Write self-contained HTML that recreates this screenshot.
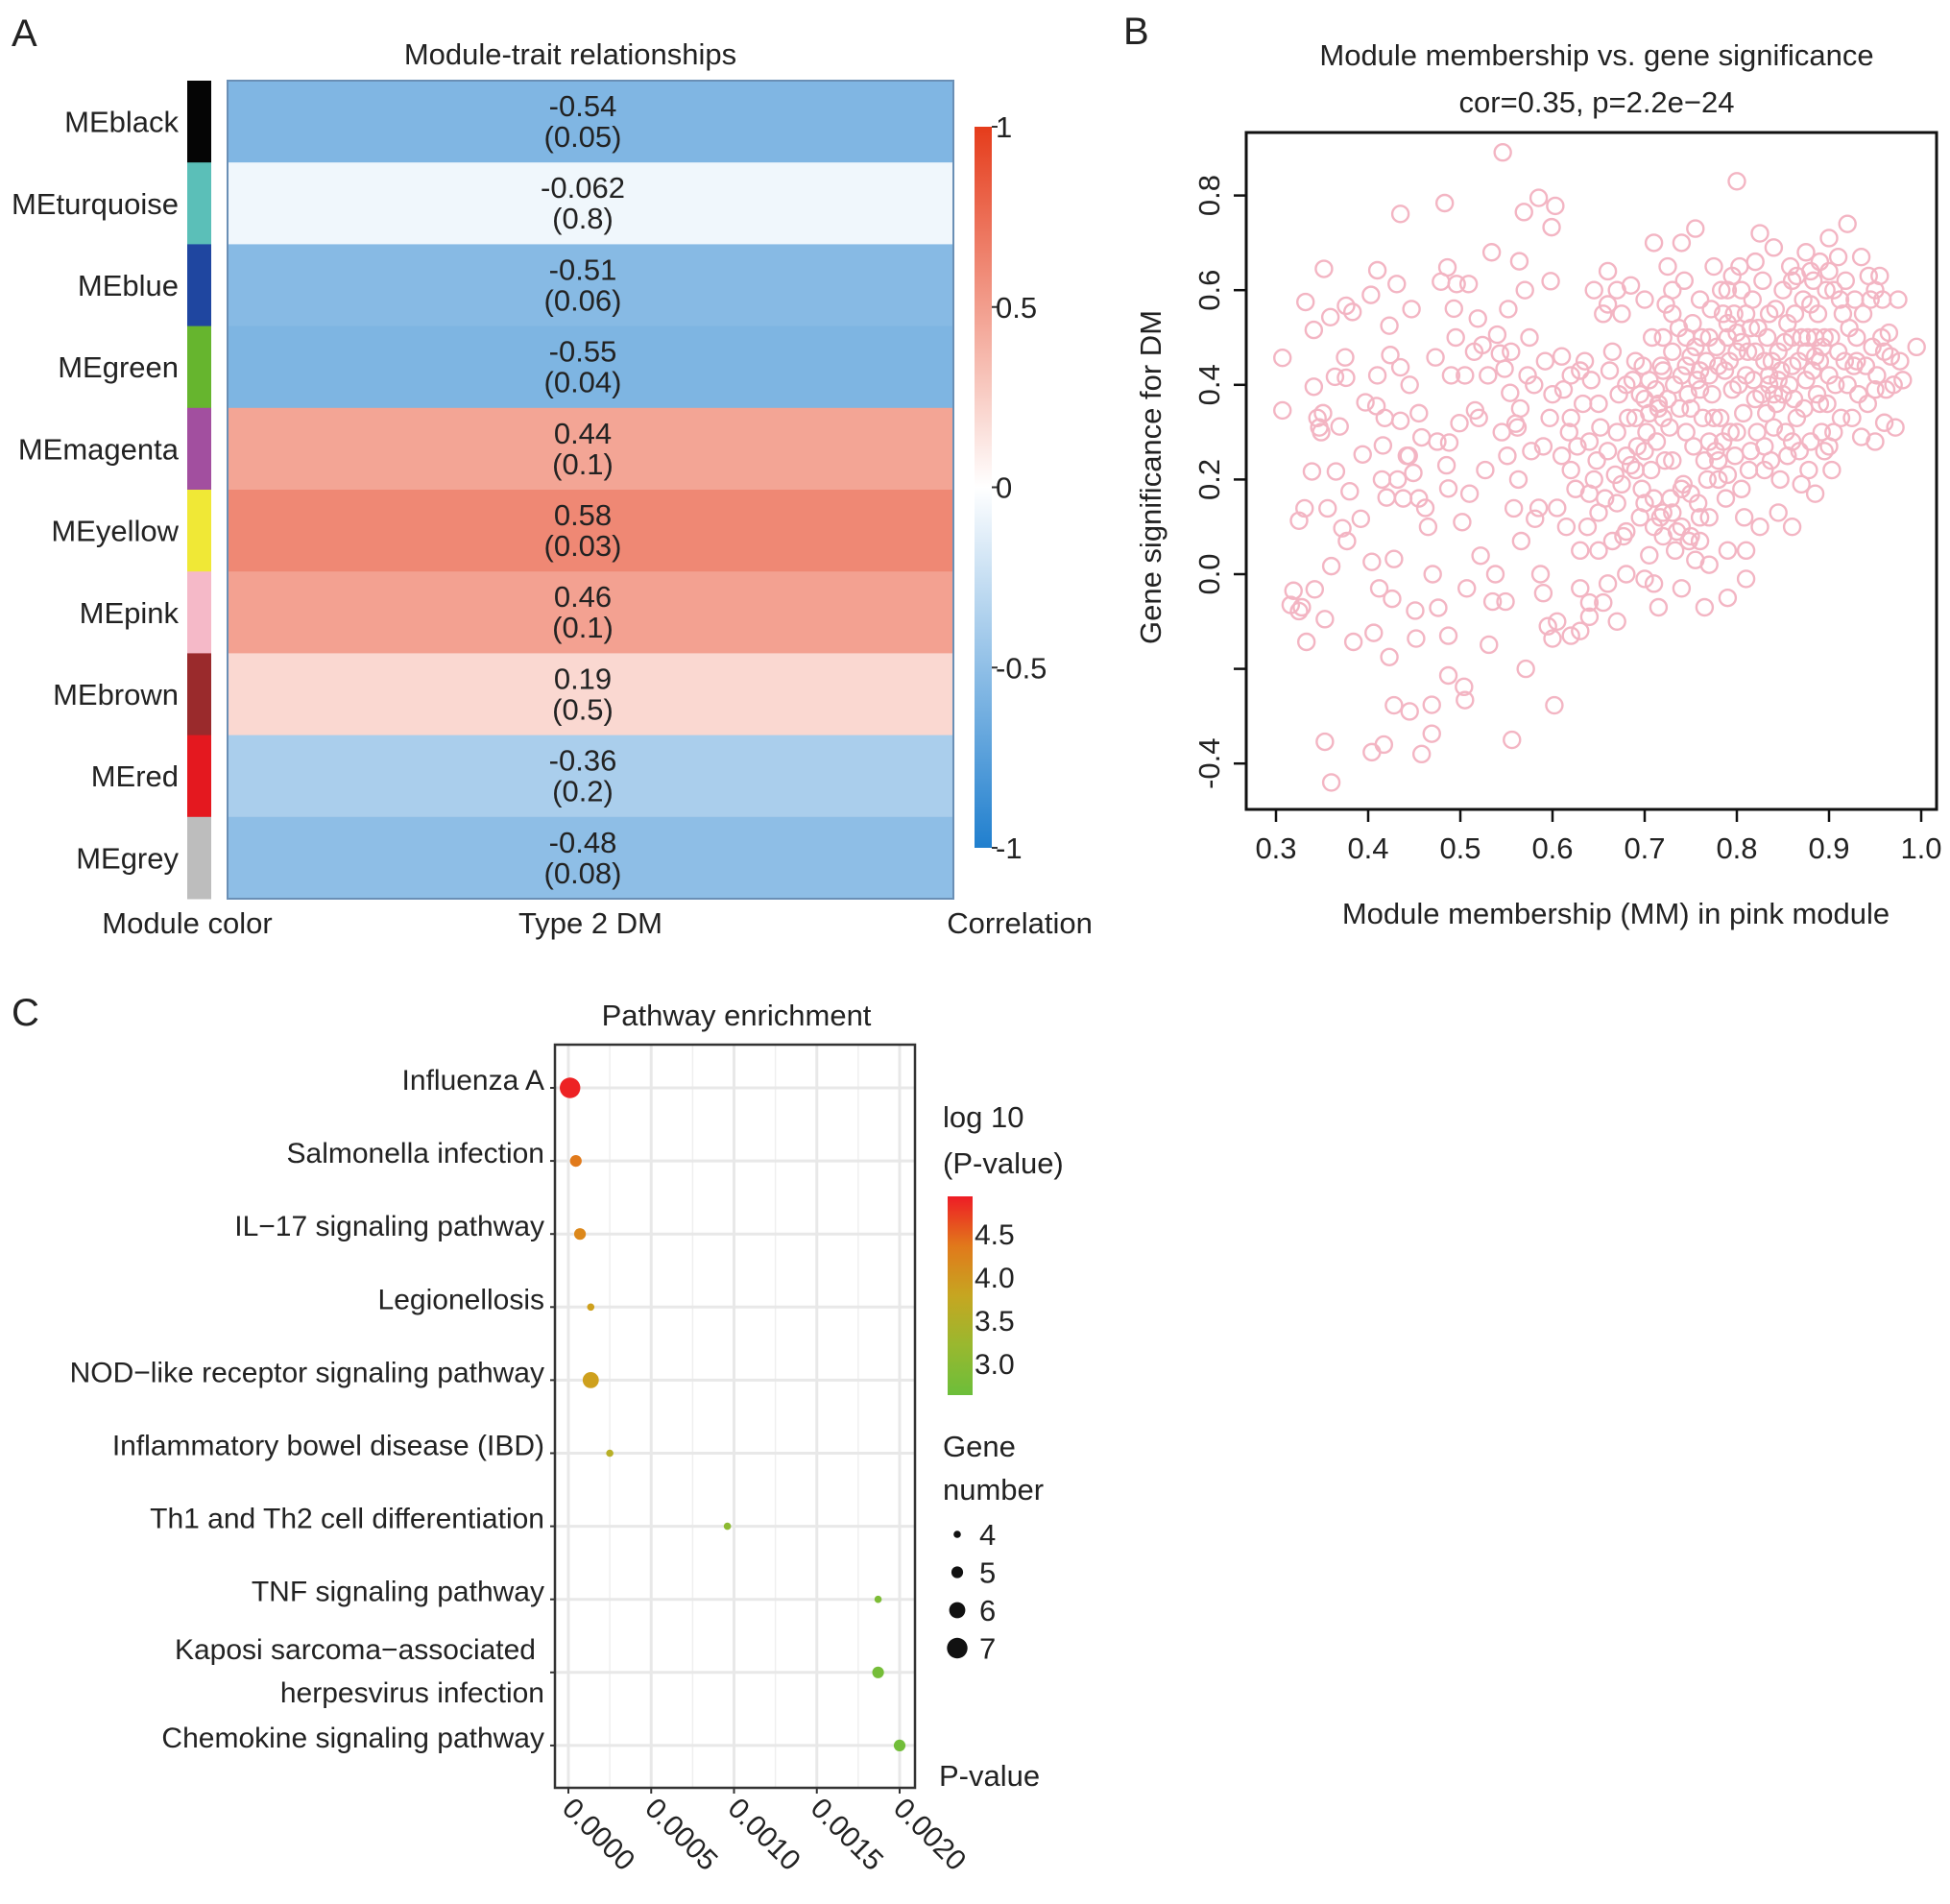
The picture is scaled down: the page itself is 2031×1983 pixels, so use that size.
<!DOCTYPE html>
<html><head><meta charset="utf-8">
<style>
html,body{margin:0;padding:0;background:#fff;}
svg{display:block;font-family:"Liberation Sans",Arial,sans-serif;}
</style></head>
<body>
<svg id="fig" width="2031" height="1983" viewBox="0 0 2031 1983" xmlns="http://www.w3.org/2000/svg">
<rect x="0" y="0" width="2031" height="1983" fill="#fff"/>
<text x="12" y="48" font-size="40" fill="#222">A</text>
<text x="1170" y="46" font-size="40" fill="#222">B</text>
<text x="12" y="1068" font-size="40" fill="#222">C</text>
<g id="pa"></g>
<g id="pb"></g>
<g id="pc"></g>
</svg>
<script>
// ---------- Panel A data ----------
const modules = ["MEblack","MEturquoise","MEblue","MEgreen","MEmagenta","MEyellow","MEpink","MEbrown","MEred","MEgrey"];
const moduleColors = ["#050505","#5bbfb8","#1f46a0","#66b52e","#a24f9f","#f0e836","#f5b9c8","#9a2a2c","#e4181f","#bdbdbd"];
const correlations = [-0.54,-0.062,-0.51,-0.55,0.44,0.58,0.46,0.19,-0.36,-0.48];
const pLabels = ["(0.05)","(0.8)","(0.06)","(0.04)","(0.1)","(0.03)","(0.1)","(0.5)","(0.2)","(0.08)"];
const corrLabels = ["-0.54","-0.062","-0.51","-0.55","0.44","0.58","0.46","0.19","-0.36","-0.48"];
const corrTicks = [1,0.5,0,-0.5,-1];
const corrTickLabels = ["1","0.5","0","-0.5","-1"];

// ---------- Panel B data ----------
const mmTicks = [0.3,0.4,0.5,0.6,0.7,0.8,0.9,1.0];
const gsTicks = [0.8,0.6,0.4,0.2,0.0,-0.2,-0.4];
const gsTickLabels = ["0.8","0.6","0.4","0.2","0.0","","-0.4"];
const scatterPoints = [
[0.307,0.346],[0.307,0.457],[0.316,-0.065],[0.319,-0.035],[0.325,-0.078],[0.328,-0.07],[0.332,0.575],[0.333,-0.143],[0.331,0.139],[0.325,0.113],
[0.341,0.516],[0.341,0.396],[0.339,0.217],[0.342,-0.032],[0.345,0.33],[0.347,0.31],[0.349,0.3],[0.351,0.34],[0.352,0.645],[0.353,-0.095],
[0.353,-0.354],[0.356,0.139],[0.359,0.543],[0.36,-0.44],[0.36,0.017],[0.364,0.417],[0.365,0.217],[0.369,0.312],[0.372,0.097],[0.375,0.458],
[0.376,0.415],[0.376,0.567],[0.377,0.07],[0.383,0.554],[0.38,0.175],[0.384,-0.143],[0.392,0.117],[0.394,0.253],[0.397,0.363],[0.403,0.59],
[0.404,0.026],[0.404,-0.376],[0.406,-0.124],[0.409,0.355],[0.41,0.642],[0.41,0.42],[0.412,-0.03],[0.415,0.2],[0.416,0.272],[0.417,-0.36],
[0.42,0.162],[0.423,-0.175],[0.423,0.525],[0.424,0.463],[0.426,-0.052],[0.428,-0.277],[0.428,0.032],[0.431,0.613],[0.435,0.437],[0.435,0.761],
[0.435,0.324],[0.438,0.16],[0.442,0.25],[0.444,0.25],[0.445,-0.29],[0.447,0.56],[0.451,-0.077],[0.449,0.214],[0.452,-0.136],[0.455,0.16],
[0.458,-0.38],[0.458,0.289],[0.462,0.14],[0.469,-0.276],[0.469,-0.337],[0.47,0.0],[0.473,0.458],[0.476,-0.071],[0.479,0.618],[0.483,0.784],
[0.486,0.648],[0.487,0.181],[0.487,-0.13],[0.487,-0.214],[0.488,0.278],[0.49,0.42],[0.493,0.561],[0.496,0.613],[0.499,0.319],[0.502,0.11],
[0.505,-0.266],[0.504,-0.238],[0.507,-0.03],[0.509,0.613],[0.51,0.17],[0.516,0.346],[0.519,0.54],[0.522,0.039],[0.524,0.484],[0.527,0.22],
[0.531,-0.149],[0.534,0.68],[0.535,-0.058],[0.538,0.0],[0.54,0.506],[0.543,0.466],[0.546,0.891],[0.548,0.434],[0.549,-0.058],[0.551,0.25],
[0.552,0.56],[0.554,0.383],[0.556,-0.35],[0.558,0.139],[0.56,0.318],[0.562,0.31],[0.563,0.2],[0.564,0.661],[0.566,0.07],[0.569,0.765],
[0.57,0.6],[0.571,-0.2],[0.573,0.42],[0.577,0.26],[0.581,0.117],[0.585,0.795],[0.587,0.0],[0.59,-0.04],[0.595,-0.11],[0.597,0.33],
[0.598,0.619],[0.599,0.733],[0.6,-0.136],[0.602,-0.277],[0.603,0.778],[0.605,0.14],[0.61,0.25],[0.615,0.1],[0.62,0.42],[0.62,0.33],
[0.625,0.18],[0.63,0.05],[0.63,-0.03],[0.635,0.45],[0.64,0.28],[0.64,-0.09],[0.645,0.6],[0.645,0.2],[0.65,0.36],[0.65,0.13],
[0.655,0.55],[0.655,-0.06],[0.66,0.64],[0.66,0.26],[0.665,0.47],[0.665,0.07],[0.67,0.3],[0.67,-0.1],[0.675,0.55],[0.675,0.19],
[0.68,0.4],[0.68,0.0],[0.685,0.61],[0.685,0.23],[0.69,0.45],[0.69,0.33],[0.695,0.12],[0.7,0.37],[0.7,0.26],[0.7,0.58],
[0.705,0.04],[0.705,0.41],[0.71,0.7],[0.71,0.16],[0.715,0.35],[0.715,-0.07],[0.72,0.5],[0.72,0.13],[0.725,0.37],[0.725,0.65],
[0.73,0.24],[0.73,0.55],[0.735,0.09],[0.74,0.42],[0.74,0.7],[0.745,0.3],[0.745,0.5],[0.75,0.17],[0.75,0.46],[0.755,0.73],
[0.755,0.03],[0.76,0.39],[0.76,0.58],[0.765,0.24],[0.765,-0.07],[0.77,0.5],[0.77,0.12],[0.775,0.33],[0.775,0.65],[0.78,0.44],
[0.78,0.2],[0.785,0.55],[0.785,0.28],[0.79,0.5],[0.79,0.05],[0.795,0.39],[0.795,0.63],[0.8,0.83],[0.8,0.3],[0.8,0.47],
[0.805,0.18],[0.805,0.6],[0.81,0.42],[0.81,-0.01],[0.815,0.52],[0.815,0.26],[0.82,0.66],[0.82,0.37],[0.825,0.1],[0.825,0.72],
[0.83,0.45],[0.83,0.22],[0.835,0.55],[0.835,0.4],[0.84,0.31],[0.84,0.69],[0.845,0.13],[0.845,0.47],[0.85,0.6],[0.85,0.38],
[0.855,0.25],[0.855,0.53],[0.86,0.1],[0.86,0.44],[0.865,0.63],[0.865,0.33],[0.87,0.5],[0.87,0.19],[0.875,0.68],[0.875,0.41],
[0.88,0.28],[0.88,0.57],[0.885,0.46],[0.885,0.17],[0.89,0.66],[0.89,0.36],[0.895,0.5],[0.895,0.26],[0.9,0.71],[0.9,0.42],
[0.905,0.6],[0.905,0.3],[0.91,0.47],[0.915,0.55],[0.92,0.74],[0.92,0.4],[0.925,0.33],[0.93,0.5],[0.935,0.67],[0.935,0.29],
[0.94,0.44],[0.945,0.58],[0.95,0.39],[0.95,0.28],[0.955,0.63],[0.96,0.47],[0.96,0.32],[0.965,0.51],[0.97,0.4],[0.975,0.58],
[0.98,0.41],[0.995,0.48],[0.695,0.38],[0.705,0.34],[0.715,0.36],[0.72,0.33],[0.745,0.44],[0.755,0.48],[0.76,0.43],[0.79,0.53],
[0.8,0.51],[0.805,0.49],[0.835,0.42],[0.84,0.38],[0.845,0.41],[0.875,0.47],[0.885,0.5],[0.89,0.45],[0.68,0.25],[0.69,0.22],
[0.78,0.24],[0.79,0.21],[0.77,0.28],[0.83,0.27],[0.86,0.28],[0.9,0.27],[0.72,0.08],[0.74,0.1],[0.76,0.12],[0.66,0.57],
[0.67,0.6],[0.73,0.6],[0.79,0.6],[0.86,0.62],[0.88,0.64],[0.9,0.64],[0.62,-0.13],[0.63,-0.12],[0.605,-0.1],[0.64,-0.06],
[0.66,-0.02],[0.7,-0.01],[0.71,-0.02],[0.74,-0.03],[0.6,0.38],[0.61,0.46],[0.63,0.43],[0.62,0.22],[0.65,0.05],[0.67,0.15],
[0.64,0.17],[0.73,0.47],[0.77,0.42],[0.81,0.55],[0.82,0.47],[0.86,0.5],[0.93,0.45],[0.95,0.6],[0.75,0.35],[0.72,0.43],
[0.612,0.39],[0.618,0.3],[0.627,0.27],[0.633,0.36],[0.638,0.1],[0.642,0.41],[0.648,0.24],[0.652,0.31],[0.657,0.16],[0.662,0.43],
[0.668,0.21],[0.672,0.38],[0.677,0.08],[0.682,0.33],[0.687,0.41],[0.692,0.27],[0.697,0.18],[0.698,0.44],[0.702,0.3],[0.707,0.22],
[0.708,0.5],[0.712,0.39],[0.713,0.28],[0.717,0.12],[0.718,0.44],[0.722,0.24],[0.723,0.57],[0.727,0.31],[0.728,0.16],[0.732,0.4],
[0.733,0.05],[0.737,0.52],[0.738,0.35],[0.742,0.19],[0.743,0.62],[0.747,0.38],[0.748,0.07],[0.752,0.53],[0.753,0.27],[0.757,0.41],
[0.758,0.15],[0.762,0.5],[0.763,0.33],[0.767,0.45],[0.768,0.2],[0.772,0.56],[0.773,0.38],[0.777,0.26],[0.778,0.48],[0.782,0.33],
[0.783,0.6],[0.787,0.43],[0.788,0.16],[0.792,0.45],[0.793,0.3],[0.797,0.55],[0.798,0.25],[0.802,0.4],[0.803,0.65],[0.807,0.34],
[0.808,0.12],[0.812,0.47],[0.813,0.22],[0.817,0.58],[0.818,0.41],[0.822,0.3],[0.823,0.52],[0.827,0.38],[0.828,0.62],[0.832,0.34],
[0.833,0.5],[0.837,0.24],[0.838,0.45],[0.842,0.56],[0.843,0.36],[0.847,0.2],[0.848,0.43],[0.852,0.49],[0.853,0.3],[0.857,0.4],
[0.858,0.65],[0.862,0.37],[0.863,0.55],[0.867,0.45],[0.868,0.26],[0.872,0.58],[0.873,0.35],[0.877,0.5],[0.878,0.22],[0.882,0.43],
[0.883,0.62],[0.887,0.38],[0.888,0.55],[0.892,0.3],[0.893,0.48],[0.897,0.6],[0.898,0.36],[0.902,0.5],[0.903,0.22],[0.907,0.4],
[0.912,0.58],[0.913,0.33],[0.917,0.45],[0.918,0.62],[0.922,0.52],[0.927,0.44],[0.932,0.38],[0.937,0.55],[0.942,0.36],[0.947,0.48],
[0.952,0.42],[0.957,0.5],[0.962,0.39],[0.967,0.46],[0.972,0.31],[0.977,0.45],[0.958,0.58],[0.943,0.63],[0.928,0.58],[0.91,0.67],
[0.58,0.4],[0.575,0.5],[0.59,0.27],[0.592,0.45],[0.585,0.14],[0.565,0.35],[0.555,0.47],[0.545,0.3],[0.53,0.42],[0.52,0.33],
[0.515,0.47],[0.505,0.42],[0.495,0.5],[0.485,0.23],[0.475,0.28],[0.465,0.1],[0.455,0.34],[0.445,0.4],[0.432,0.2],[0.418,0.33],
[0.71,0.1],[0.73,0.13],[0.75,0.08],[0.77,0.02],[0.79,-0.05],[0.81,0.05],[0.76,0.07],[0.74,0.18],[0.7,0.15],[0.68,0.09]
];

// ---------- Panel C data ----------
const pathways = ["Influenza A","Salmonella infection","IL\u221217 signaling pathway","Legionellosis","NOD\u2212like receptor signaling pathway","Inflammatory bowel disease (IBD)","Th1 and Th2 cell differentiation","TNF signaling pathway","Kaposi sarcoma\u2212associated herpesvirus infection","Chemokine signaling pathway"];
const pValues = [0.00001,0.000045,0.00007,0.000135,0.000135,0.00025,0.00096,0.00187,0.00187,0.002];
const logP = [4.9,4.35,4.2,3.9,3.9,3.6,3.05,2.85,2.75,2.7];
const geneNumbers = [7,5,5,4,6,4,4,4,5,5];
const pTicks = [0,0.0005,0.001,0.0015,0.002];
const pTickLabels = ["0.0000","0.0005","0.0010","0.0015","0.0020"];
const logTicks = [4.5,4.0,3.5,3.0];
const logTickLabels = ["4.5","4.0","3.5","3.0"];
const sizeLegend = [4,5,6,7];

const NS="http://www.w3.org/2000/svg";
function mk(parent,tag,attrs,txt){const e=document.createElementNS(NS,tag);for(const k in attrs)e.setAttribute(k,attrs[k]);if(txt!==undefined)e.textContent=txt;parent.appendChild(e);return e;}
function lerp(a,b,t){return a+(b-a)*t;}
function mix(c1,c2,t){return "rgb("+c1.map((v,i)=>Math.round(lerp(v,c2[i],t))).join(",")+")";}

// ===== Panel A =====
const pa=document.getElementById('pa');
const hmX0=237,hmX1=993,hmY0=84,hmY1=936;
const rowH=(hmY1-hmY0)/modules.length;
function rowY(i){return hmY0+i*rowH;}
function corrColor(v){const w=[255,255,255],r=[228,50,15],b=[20,120,203];return v>=0?mix(w,r,v):mix(w,b,-v);}
let t=mk(pa,'text',{x:594,y:67,'font-size':31,'text-anchor':'middle',fill:'#222'},"Module-trait relationships");


modules.forEach((m,i)=>{
  const y=rowY(i);
  const cell=mk(pa,'rect',{x:hmX0,y:y,width:hmX1-hmX0,height:rowH+0.5,fill:corrColor(correlations[i])});
  
  
  const sw=mk(pa,'rect',{x:195,y:y,width:25,height:rowH+0.5,fill:moduleColors[i]});
  
  
  const lb=mk(pa,'text',{x:186,y:y+rowH/2+11,'font-size':31,'text-anchor':'end',fill:'#222'},m);
  
  
  const v1=mk(pa,'text',{x:607,y:y+37,'font-size':31,'text-anchor':'middle',fill:'#222'},corrLabels[i]);
  
  
  const v2=mk(pa,'text',{x:607,y:y+69,'font-size':31,'text-anchor':'middle',fill:'#222'},pLabels[i]);
  
  
});
let bd=mk(pa,'rect',{x:hmX0,y:hmY0,width:hmX1-hmX0,height:hmY1-hmY0,fill:'none',stroke:'#6a8fb5','stroke-width':2});


const cbX=1015,cbW=18,cbTop=132,cbBot=883;
function cbY(v){return cbTop+(1-v)/2*(cbBot-cbTop);}
const defs=mk(document.getElementById('fig'),'defs',{});
const g1=mk(defs,'linearGradient',{id:'corrGrad',x1:0,y1:0,x2:0,y2:1});
mk(g1,'stop',{offset:'0','stop-color':corrColor(0.95)});
mk(g1,'stop',{offset:'0.5','stop-color':'#ffffff'});
mk(g1,'stop',{offset:'1','stop-color':corrColor(-0.95)});
let cb=mk(pa,'rect',{x:cbX,y:cbTop,width:cbW,height:cbBot-cbTop,fill:'url(#corrGrad)'});


corrTicks.forEach((v,i)=>{
  const y=cbY(v);
  const tk=mk(pa,'line',{x1:cbX+cbW,x2:cbX+cbW+6,y1:y,y2:y,stroke:'#333','stroke-width':2});
  
  
  const tl=mk(pa,'text',{x:cbX+cbW+4,y:y+11,'font-size':31,fill:'#222'},corrTickLabels[i]);
  
  
});
[["Module color",195,"module-color-axis-label"],["Type 2 DM",615,"trait-axis-label"],["Correlation",1062,"colorbar-title"]].forEach(a=>{
  const e=mk(pa,'text',{x:a[1],y:972,'font-size':31,'text-anchor':'middle',fill:'#222'},a[0]);
  
  
});

// ===== Panel B =====
const pb=document.getElementById('pb');
const bx0=1298,bx1=2017,by0=138,by1=843;
function sx(v){return 1329+(v-0.3)*960;}
function sy(v){return 598-v*493;}
[["Module membership vs. gene significance",57,"scatter-title"],["cor=0.35, p=2.2e\u221224",106,"scatter-subtitle"]].forEach(a=>{
  const e=mk(pb,'text',{x:1663,y:a[1]+11,'font-size':31,'text-anchor':'middle',fill:'#222'},a[0]);
  
  
});
scatterPoints.forEach(p=>{
  const c=mk(pb,'circle',{cx:sx(p[0]),cy:sy(p[1]),r:8.5,fill:'none',stroke:'#f3b5c3','stroke-width':2.4});
  
  
});
let box=mk(pb,'rect',{x:bx0,y:by0,width:bx1-bx0,height:by1-by0,fill:'none',stroke:'#111','stroke-width':3});


mmTicks.forEach(v=>{
  const x=sx(v);
  const tk=mk(pb,'line',{x1:x,x2:x,y1:by1,y2:by1+13,stroke:'#111','stroke-width':2.5});
  
  
  const tl=mk(pb,'text',{x:x,y:894,'font-size':31,'text-anchor':'middle',fill:'#222'},v.toFixed(1));
  
  
});
gsTicks.forEach((v,i)=>{
  const y=sy(v);
  const tk=mk(pb,'line',{x1:bx0-13,x2:bx0,y1:y,y2:y,stroke:'#111','stroke-width':2.5});
  
  
  if(gsTickLabels[i]){
    const tl=mk(pb,'text',{x:0,y:0,'font-size':31,'text-anchor':'middle',fill:'#222',transform:'translate(1270,'+y+') rotate(-90)'},gsTickLabels[i]);
    
    
  }
});
let xt=mk(pb,'text',{x:1683,y:962,'font-size':31,'text-anchor':'middle',fill:'#222'},"Module membership (MM) in pink module");


let yt=mk(pb,'text',{x:0,y:0,'font-size':31,'text-anchor':'middle',fill:'#222',transform:'translate(1209,497) rotate(-90)'},"Gene significance for DM");



// ===== Panel C =====
const pc=document.getElementById('pc');
const cx0=578,cx1=953,cy0=1088,cy1=1862;
function px(v){return 592+v*172500;}
function py(i){return 1133+i*76.1;}
function logColor(v){
  const stops=[[2.64,[108,190,58]],[3.5,[176,181,42]],[4.0,[214,155,26]],[4.5,[229,108,28]],[4.93,[238,28,37]]];
  if(v<=stops[0][0])return mix(stops[0][1],stops[0][1],0);
  for(let k=1;k<stops.length;k++){if(v<=stops[k][0]){const a=stops[k-1],b=stops[k];return mix(a[1],b[1],(v-a[0])/(b[0]-a[0]));}}
  return mix(stops[4][1],stops[4][1],0);
}
function rSize(n){return 1.5+(n-3)*2.3;}
let ct=mk(pc,'text',{x:767,y:1068,'font-size':31,'text-anchor':'middle',fill:'#222'},"Pathway enrichment");


let bg=mk(pc,'rect',{x:cx0,y:cy0,width:cx1-cx0,height:cy1-cy0,fill:'#fff'});


for(let k=0;k<pTicks.length-1;k++){
  const x=px((pTicks[k]+pTicks[k+1])/2);
  const gl=mk(pc,'line',{x1:x,x2:x,y1:cy0,y2:cy1,stroke:'#efefef','stroke-width':1.5});
  
  
}
pTicks.forEach(v=>{
  const gl=mk(pc,'line',{x1:px(v),x2:px(v),y1:cy0,y2:cy1,stroke:'#e8e8e8','stroke-width':3});
  
  
});
pathways.forEach((p,i)=>{
  const gl=mk(pc,'line',{x1:cx0,x2:cx1,y1:py(i),y2:py(i),stroke:'#e8e8e8','stroke-width':3});
  
  
});
pathways.forEach((p,i)=>{
  const y=py(i);
  const d=mk(pc,'circle',{cx:px(pValues[i]),cy:y,r:rSize(geneNumbers[i]),fill:logColor(logP[i])});
  
  
  if(p.indexOf("Kaposi")===0){
    const l1=mk(pc,'text',{x:558,y:y-14,'font-size':30,'text-anchor':'end',fill:'#222'},"Kaposi sarcoma\u2212associated");
    
    
    const l2=mk(pc,'text',{x:567,y:y+31,'font-size':30,'text-anchor':'end',fill:'#222'},"herpesvirus infection");
    
    
  } else {
    const l=mk(pc,'text',{x:567,y:y+2,'font-size':30,'text-anchor':'end',fill:'#222'},p);
    
    
  }
  const tk=mk(pc,'line',{x1:cx0-5,x2:cx0,y1:y,y2:y,stroke:'#333','stroke-width':2});
  
  
});
let cf=mk(pc,'rect',{x:cx0,y:cy0,width:cx1-cx0,height:cy1-cy0,fill:'none',stroke:'#333','stroke-width':2.5});


pTicks.forEach((v,i)=>{
  const x=px(v);
  const tk=mk(pc,'line',{x1:x,x2:x,y1:cy1,y2:cy1+6,stroke:'#333','stroke-width':2});
  
  
  const tl=mk(pc,'text',{x:0,y:0,'font-size':30,fill:'#222',transform:'translate('+(x-8)+',1885) rotate(45)'},pTickLabels[i]);
  
  
});
[["log 10",1174],["(P-value)",1222]].forEach(a=>{
  const e=mk(pc,'text',{x:982,y:a[1],'font-size':31,fill:'#222'},a[0]);
  
  
});
const lgTop=1246,lgBot=1453;
function ly(v){return 1285+(4.5-v)*90;}
const g2=mk(defs,'linearGradient',{id:'logGrad',x1:0,y1:0,x2:0,y2:1});
[0,0.25,0.5,0.75,1].forEach(f=>{mk(g2,'stop',{offset:f,'stop-color':logColor(4.93-f*(4.93-2.64))});});
let lg=mk(pc,'rect',{x:987,y:lgTop,width:26,height:lgBot-lgTop,fill:'url(#logGrad)'});


logTicks.forEach((v,i)=>{
  const y=ly(v);
  const tl=mk(pc,'text',{x:1015,y:y+11,'font-size':30,fill:'#222'},logTickLabels[i]);
  
  
});
[["Gene",1517],["number",1562]].forEach(a=>{
  const e=mk(pc,'text',{x:982,y:a[1],'font-size':31,fill:'#222'},a[0]);
  
  
});
sizeLegend.forEach((n,i)=>{
  const y=1598+i*39.5;
  const d=mk(pc,'circle',{cx:997,cy:y,r:rSize(n),fill:'#111'});
  
  
  const tl=mk(pc,'text',{x:1020,y:y+11,'font-size':31,fill:'#222'},String(n));
  
  
});
let pvt=mk(pc,'text',{x:978,y:1860,'font-size':31,fill:'#222'},"P-value");


</script>
</body></html>
